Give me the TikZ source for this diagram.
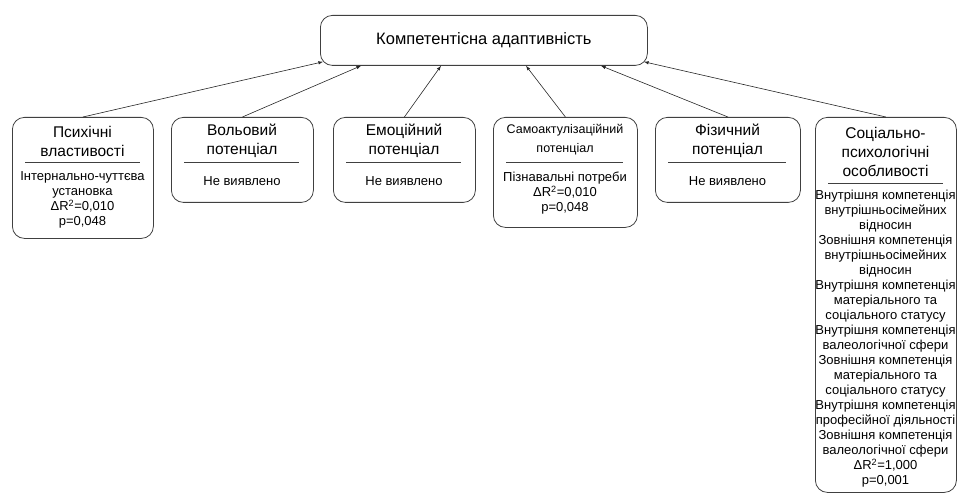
\documentclass[tikz,border=0pt]{standalone}
\usepackage{fontspec}
\setmainfont{Liberation Sans}
\usetikzlibrary{positioning}
\tikzset{
  card/.style={draw=black!75, line width=0.8pt, rounded corners=12pt, anchor=north west, inner sep=0pt},
  head/.style={align=center, font=\fontsize{15.5}{19}\selectfont, inner sep=0pt},
  body/.style={align=center, font=\fontsize{13}{15}\selectfont, inner sep=0pt},
  sep/.style={draw=black!75, line width=0.6pt},
  arr/.style={-latex, draw=black!85, line width=0.6pt}
}
\begin{document}
\begin{tikzpicture}[x=1pt,y=-1pt]
\useasboundingbox (0,0) rectangle (957,494);
\node[card, minimum width=327pt, minimum height=50pt, font=\fontsize{16.5}{20}\selectfont] (top) at (320,15) {Компетентісна адаптивність};
% lower boxes
\node[card, minimum width=141pt, minimum height=121pt] (psy) at (12,117) {};
\node[head] (psyh) at (82.5,141) {Психічні\\властивості};
\draw[sep] (25,162) -- (140,162);
\node[body] (psyb) at (82.5,200) {Інтернально-чуттєва\\установка\\ΔR\textsuperscript{2}=0,010\\p=0,048};
\node[card, minimum width=142pt, minimum height=85pt] (vol) at (171,117) {};
\node[head] (volh) at (242,141) {Вольовий\\потенціал};
\draw[sep] (184,162) -- (299,162);
\node[body] (volb) at (242,181) {Не виявлено};
\node[card, minimum width=142pt, minimum height=85pt] (emo) at (333,117) {};
\node[head] (emoh) at (404,141) {Емоційний\\потенціал};
\draw[sep] (346,162) -- (461,162);
\node[body] (emob) at (404,181) {Не виявлено};
\node[card, minimum width=144pt, minimum height=110pt] (sam) at (493,117) {};
\node[head, font=\fontsize{12.5}{19}\selectfont] (samh) at (565,140) {Самоактулізаційний\\потенціал};
\draw[sep] (506,162) -- (623,162);
\node[body] (samb) at (565,193) {Пізнавальні потреби\\ΔR\textsuperscript{2}=0,010\\p=0,048};
\node[card, minimum width=145pt, minimum height=85pt] (fiz) at (655,117) {};
\node[head] (fizh) at (727.5,141) {Фізичний\\потенціал};
\draw[sep] (668,162) -- (786,162);
\node[body] (fizb) at (727.5,181) {Не виявлено};
\node[card, minimum width=141pt, minimum height=375pt] (soc) at (815,117) {};
\node[head] (soch) at (885.5,152) {Соціально-\\психологічні\\особливості};
\draw[sep] (828,183) -- (943,183);
\node[body] (socb) at (885.5,339) {Внутрішня компетенція\\внутрішньосімейних\\відносин\\Зовнішня компетенція\\внутрішньосімейних\\відносин\\Внутрішня компетенція\\матеріального та\\соціального статусу\\Внутрішня компетенція\\валеологічної сфери\\Зовнішня компетенція\\матеріального та\\соціального статусу\\Внутрішня компетенція\\професійної діяльності\\Зовнішня компетенція\\валеологічної сфери\\ΔR\textsuperscript{2}=1,000\\p=0,001};
% arrows up
\draw[arr] (psy.north) -- ([xshift=3pt,yshift=4pt]top.south west);
\draw[arr] (vol.north) -- ([xshift=41pt]top.south west);
\draw[arr] (emo.north) -- ([xshift=121pt]top.south west);
\draw[arr] (sam.north) -- ([xshift=206pt]top.south west);
\draw[arr] (fiz.north) -- ([xshift=281pt]top.south west);
\draw[arr] (soc.north) -- ([xshift=324pt,yshift=4pt]top.south west);
\end{tikzpicture}
\end{document}
